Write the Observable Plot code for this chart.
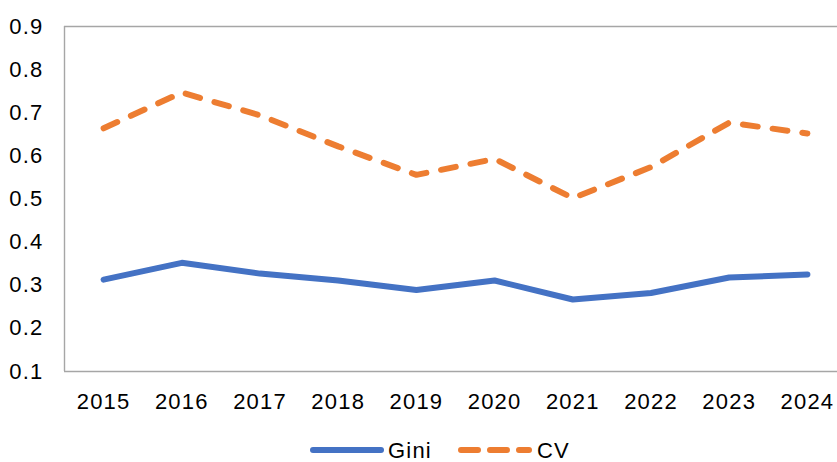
<!DOCTYPE html>
<html>
<head>
<meta charset="utf-8">
<script src="https://cdn.jsdelivr.net/npm/d3@7"></script>
<script src="https://cdn.jsdelivr.net/npm/@observablehq/plot@0.6"></script>
<style>
  html, body { margin: 0; padding: 0; background: #fff; }
  #wrap { position: relative; width: 837px; height: 462px; overflow: hidden; font-family: "Liberation Sans", Arial, sans-serif; }
  #legend { position: absolute; left: 0; top: 430px; width: 837px; height: 32px; }
  .item { position: absolute; top: 0; height: 32px; }
  .item svg { position: absolute; top: 0; left: 0; }
  .item span { position: absolute; top: 8px; font-size: 22px; letter-spacing: 1.2px; color: #000; line-height: 26px; white-space: nowrap; }
</style>
</head>
<body>
<div id="wrap">
  <div id="chart"></div>
  <div id="legend"></div>
</div>
<script>
const years = [2015, 2016, 2017, 2018, 2019, 2020, 2021, 2022, 2023, 2024];
const gini = [0.313, 0.352, 0.327, 0.311, 0.289, 0.311, 0.267, 0.282, 0.318, 0.325];
const cv = [0.664, 0.747, 0.694, 0.622, 0.556, 0.593, 0.502, 0.574, 0.677, 0.652];
const yTicks = [0.1, 0.2, 0.3, 0.4, 0.5, 0.6, 0.7, 0.8, 0.9];
const seriesNames = ["Gini", "CV"];
const seriesColors = ["#4472c4", "#ed7d31"];

const giniData = years.map((year, i) => ({year, value: gini[i]}));
const cvData = years.map((year, i) => ({year, value: cv[i]}));

const chart = Plot.plot({
  width: 837,
  height: 430,
  marginLeft: 64,
  marginTop: 26,
  marginBottom: 59,
  marginRight: 0,
  x: {domain: [2014.5, 2024.5], range: [64, 846]},
  y: {domain: [0.1, 0.9]},
  style: {fontFamily: "'Liberation Sans', Arial, sans-serif", fontSize: "22px", color: "#000", background: "#fff", overflow: "visible", letterSpacing: "1.2px"},
  marks: [
    Plot.ruleY([0.1, 0.9], {stroke: "#a6a6a6", strokeWidth: 1.4}),
    Plot.ruleX([2014.5], {stroke: "#a6a6a6", strokeWidth: 1.4}),
    Plot.axisY({ticks: yTicks, tickSize: 0, tickPadding: 21, tickFormat: d => d.toFixed(1), label: null, fill: "#000", fontSize: 22}),
    Plot.axisX({ticks: years, tickSize: 0, tickPadding: 22, tickFormat: d => String(d), label: null, fill: "#000", fontSize: 22}),
    Plot.line(giniData, {x: "year", y: "value", stroke: seriesColors[0], strokeWidth: 6, strokeLinecap: "round", strokeLinejoin: "round"}),
    Plot.line(cvData, {x: "year", y: "value", stroke: seriesColors[1], strokeWidth: 6, strokeLinecap: "round", strokeLinejoin: "round", strokeDasharray: "15,15"})
  ]
});
document.getElementById("chart").appendChild(chart);

// Legend
const legend = document.getElementById("legend");
const lefts = [310, 458];
const dashes = [null, "17 12"];
seriesNames.forEach((name, i) => {
  const item = document.createElement("div");
  item.className = "item";
  item.style.left = lefts[i] + "px";
  item.style.width = "130px";
  item.innerHTML = `<svg width="80" height="32"><line x1="3" x2="71" y1="20" y2="20" stroke="${seriesColors[i]}" stroke-width="6" stroke-linecap="round" ${dashes[i] ? `stroke-dasharray="${dashes[i]}"` : ""}/></svg><span style="left:${i === 0 ? 78 : 79}px">${name}</span>`;
  legend.appendChild(item);
});
</script>
</body>
</html>
